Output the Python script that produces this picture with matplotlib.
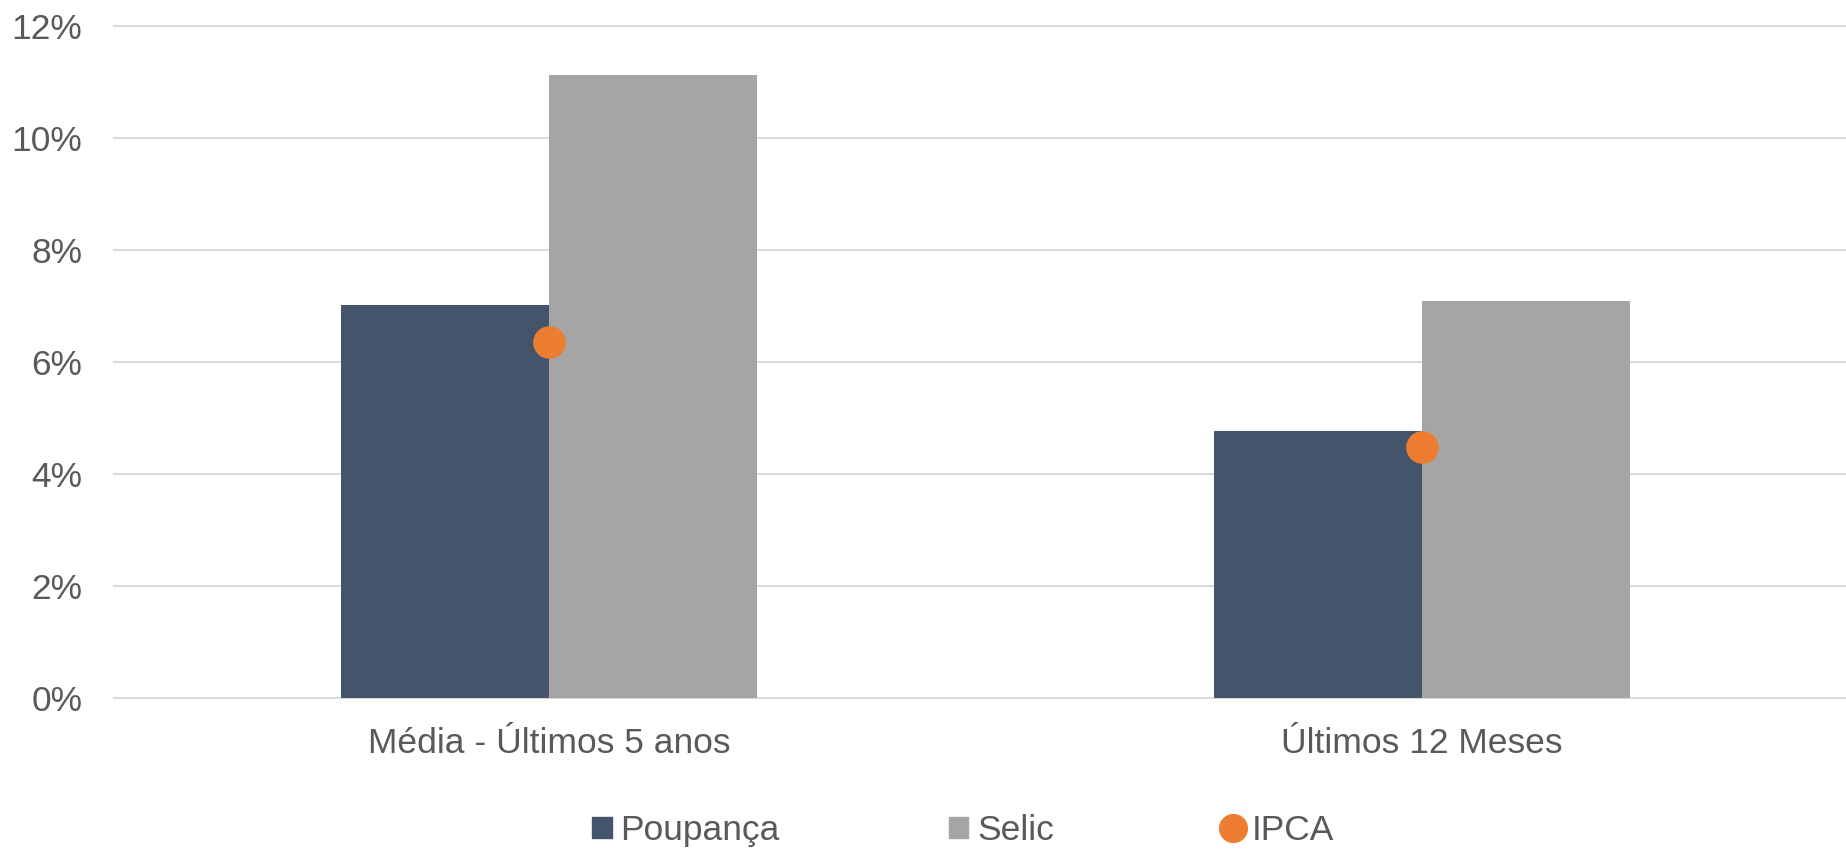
import numpy as np
import matplotlib.pyplot as plt
from matplotlib.patches import Patch
from matplotlib.lines import Line2D

plt.rcParams['font.family'] = ['Liberation Sans', 'DejaVu Sans']

categorias = ['Média - Últimos 5 anos', 'Últimos 12 Meses']
poupanca = [7.02, 4.77]
selic = [11.13, 7.09]
ipca = [6.36, 4.48]
yticks = [0, 2, 4, 6, 8, 10, 12]
ytick_labels = ['0%', '2%', '4%', '6%', '8%', '10%', '12%']

cor_poup = '#44546A'
cor_selic = '#A5A5A5'
cor_ipca = '#ED7D31'
cor_texto = '#595959'

fig = plt.figure(figsize=(18.46, 8.5), dpi=100)
ax = fig.add_axes([113/1846, 0.1755, 1 - 113/1846, 0.8005])

x = np.arange(len(categorias))
w = 0.238
ax.bar(x - w/2, poupanca, w, color=cor_poup, zorder=2)
ax.bar(x + w/2, selic, w, color=cor_selic, zorder=2)
ax.plot(x, ipca, linestyle='none', marker='o', markersize=23.5,
        color=cor_ipca, markeredgewidth=0, zorder=3)

ax.set_xlim(-0.4994, 1.4857)
ax.set_ylim(-0.05, 12.1)
ax.set_yticks(yticks)
ax.set_yticklabels(ytick_labels)
ax.set_xticks(x)
ax.set_xticklabels(categorias)
ax.tick_params(axis='y', length=0, pad=22, labelsize=25.5, labelcolor=cor_texto)
ax.tick_params(axis='x', length=0, pad=19, labelsize=25.5, labelcolor=cor_texto)
ax.yaxis.grid(True, color='#D9D9D9', linewidth=1.4, zorder=0)
ax.set_axisbelow(True)
for s in ax.spines.values():
    s.set_visible(False)

handles = [Patch(color=cor_poup), Patch(color=cor_selic),
           Line2D([], [], linestyle='none', marker='o', markersize=21,
                  color=cor_ipca, markeredgewidth=0)]
leg = fig.legend(handles, ['Poupança', 'Selic', 'IPCA'], loc='center',
                 bbox_to_anchor=(963/1846, 0.023), ncol=3, frameon=False,
                 fontsize=25.5, handlelength=0.55, handleheight=0.55,
                 handletextpad=0.25, columnspacing=4.77)
for t in leg.get_texts():
    t.set_color(cor_texto)

plt.savefig('out.png', dpi=100)
